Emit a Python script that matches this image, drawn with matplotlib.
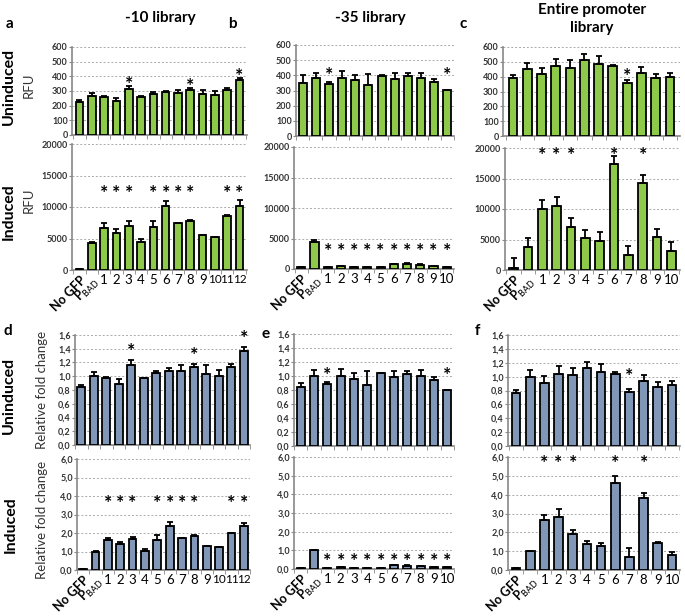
import numpy as np
import matplotlib.pyplot as plt

plt.rcParams['font.family'] = ['Lato', 'DejaVu Sans']

# categorias
lab_a = ['No GFP', r'P$_{\mathrm{BAD}}$'] + [str(i) for i in range(1, 13)]
lab_b = ['No GFP', r'P$_{\mathrm{BAD}}$'] + [str(i) for i in range(1, 11)]
lab_c = lab_b

# RFU - nao induzido
a_un = [228, 268, 258, 235, 312, 260, 282, 292, 288, 308, 278, 272, 305, 372]
a_un_err = [10, 15, 8, 15, 20, 5, 8, 8, 20, 10, 30, 25, 15, 15]
b_un = [350, 383, 340, 383, 370, 335, 398, 378, 395, 383, 358, 305]
b_un_err = [55, 35, 15, 45, 30, 75, 5, 35, 20, 35, 20, 0]
c_un = [390, 455, 415, 475, 460, 510, 488, 472, 355, 428, 388, 397]
c_un_err = [20, 40, 45, 45, 50, 40, 50, 10, 20, 35, 30, 25]

# RFU - induzido
a_in = [200, 4300, 6700, 5900, 7000, 4400, 6800, 10100, 7400, 7800, 5500, 5200, 8600, 10200]
a_in_err = [0, 100, 700, 600, 700, 500, 1000, 800, 100, 200, 100, 100, 100, 900]
b_in = [300, 4400, 400, 450, 350, 350, 400, 900, 800, 650, 450, 400]
b_in_err = [0, 300, 0, 0, 0, 0, 0, 0, 200, 100, 0, 0]
c_in = [400, 3800, 10000, 10500, 7100, 5200, 4700, 17300, 2500, 14200, 5400, 3100]
c_in_err = [1500, 1400, 1400, 1400, 1500, 1400, 1500, 1400, 1500, 1400, 1400, 1500]

# fold change - nao induzido
d_un = [0.85, 1.0, 0.97, 0.89, 1.16, 0.97, 1.05, 1.08, 1.07, 1.14, 1.03, 1.01, 1.13, 1.37]
d_un_err = [0.03, 0.06, 0.02, 0.07, 0.07, 0.01, 0.03, 0.04, 0.09, 0.04, 0.13, 0.08, 0.05, 0.05]
e_un = [0.85, 1.0, 0.89, 1.0, 0.96, 0.87, 1.04, 0.98, 1.03, 1.0, 0.94, 0.80]
e_un_err = [0.05, 0.08, 0.03, 0.1, 0.08, 0.2, 0.01, 0.09, 0.04, 0.08, 0.04, 0.0]
f_un = [0.77, 1.0, 0.91, 1.04, 1.02, 1.12, 1.07, 1.04, 0.78, 0.94, 0.85, 0.88]
f_un_err = [0.04, 0.09, 0.1, 0.11, 0.11, 0.09, 0.11, 0.02, 0.04, 0.08, 0.07, 0.05]

# fold change - induzido
d_in = [0.05, 1.0, 1.6, 1.4, 1.65, 1.05, 1.62, 2.4, 1.73, 1.83, 1.3, 1.25, 2.0, 2.4]
d_in_err = [0, 0.02, 0.15, 0.13, 0.15, 0.1, 0.25, 0.2, 0.02, 0.05, 0.02, 0.02, 0.02, 0.15]
e_in = [0.07, 1.0, 0.08, 0.09, 0.07, 0.07, 0.08, 0.2, 0.17, 0.14, 0.09, 0.09]
e_in_err = [0, 0.03, 0, 0, 0, 0, 0, 0, 0.05, 0.03, 0, 0]
f_in = [0.1, 1.0, 2.68, 2.8, 1.9, 1.38, 1.28, 4.6, 0.67, 3.8, 1.45, 0.82]
f_in_err = [0.02, 0, 0.25, 0.45, 0.25, 0.15, 0.18, 0.4, 0.5, 0.3, 0.05, 0.12]

# asteriscos (indices das barras)
a_un_st = [4, 9, 13]
a_in_st = [2, 3, 4, 6, 7, 8, 9, 12, 13]
b_un_st = [2, 11]
b_in_st = list(range(2, 12))
c_un_st = [8]
c_in_st = [2, 3, 4, 7, 9]

verde = '#8fc94a'
azul = '#8197b8'

fig = plt.figure(figsize=(6.85, 6.16), dpi=100)
W, H = 685.0, 616.0


def eixo(l, r, t, b):
    return fig.add_axes([l / W, 1 - b / H, (r - l) / W, (b - t) / H])


def painel(ax, vals, errs, cor, ymax, passo, fmt, estrelas, nivel=None, desloc=8,
           labels=None, x0=-0.6):
    n = len(vals)
    x = np.arange(n)
    ax.bar(x, vals, width=0.62, color=cor, edgecolor='black', linewidth=1.3, zorder=3)
    ax.errorbar(x, vals, yerr=[np.zeros(n), errs], fmt='none', ecolor='black',
                elinewidth=1.3, capsize=2, capthick=1.3, zorder=4)
    ax.set_ylim(0, ymax)
    ax.set_xlim(x0, n - 1 - x0)
    ticks = np.arange(0, ymax + passo / 2, passo)
    ax.set_yticks(ticks)
    ax.set_yticklabels([fmt(t) for t in ticks], fontsize=6.5, fontweight='bold', color='#333333')
    ax.grid(axis='y', linestyle=(0, (2, 2)), color='#aaaaaa', linewidth=0.7, zorder=0)
    for s in ['top', 'right']:
        ax.spines[s].set_visible(False)
    for s in ['left', 'bottom']:
        ax.spines[s].set_color('#888888')
        ax.spines[s].set_linewidth(1.2)
    ax.tick_params(axis='y', length=2, color='#888888', pad=1)
    ax.set_xticks(np.arange(n + 1) - 0.5, minor=True)
    ax.tick_params(axis='x', which='minor', length=3, color='#888888')
    ax.set_xticks(x)
    if labels is None:
        ax.set_xticklabels([])
        ax.tick_params(axis='x', which='major', length=0)
    else:
        ax.set_xticklabels(labels, fontsize=9.5, color='black')
        ax.tick_params(axis='x', which='major', length=0, pad=3)
        tl = ax.get_xticklabels()
        for lb in tl[:2]:
            lb.set_rotation(45)
            lb.set_ha('right')
            lb.set_rotation_mode('anchor')
            lb.set_fontweight('bold')
            lb.set_fontsize(9)
        if n > 12:
            for lb in tl[11:]:
                lb.set_fontsize(8.5)
    # asterisco: centro do glifo ~12 px acima da linha de base
    for i in estrelas:
        if nivel is None:
            y = vals[i] + errs[i]
            off = desloc - 12
        else:
            y = nivel
            off = -12
        ax.annotate('*', (i, y), xytext=(0, off * 0.72), textcoords='offset points',
                    ha='center', va='baseline', fontsize=14, fontweight='bold',
                    annotation_clip=False, zorder=5)


rfu = lambda t: '%d' % t
fc = lambda t: ('%.1f' % t).replace('.', ',')

ax = eixo(72, 247, 47, 135)
painel(ax, a_un, a_un_err, verde, 600, 100, rfu, a_un_st, desloc=8)
ax = eixo(72, 247, 144, 270)
painel(ax, a_in, a_in_err, verde, 20000, 5000, rfu, a_in_st, nivel=13200, labels=lab_a)
ax = eixo(296, 454, 45, 136)
painel(ax, b_un, b_un_err, verde, 600, 100, rfu, b_un_st, nivel=442, x0=-0.45)
ax = eixo(294, 454, 147, 269)
painel(ax, b_in, b_in_err, verde, 20000, 5000, rfu, b_in_st, nivel=3930, labels=lab_b, x0=-0.55)
ax = eixo(503, 680, 47, 136)
painel(ax, c_un, c_un_err, verde, 600, 100, rfu, c_un_st, nivel=448, x0=-0.7)
ax = eixo(505, 680, 148, 270)
painel(ax, c_in, c_in_err, verde, 20000, 5000, rfu, c_in_st, nivel=19900, labels=lab_c, x0=-0.6)

ax = eixo(75, 250, 335, 445)
painel(ax, d_un, d_un_err, azul, 1.6, 0.2, fc, a_un_st, desloc=15, x0=-0.5)
ax = eixo(77, 250, 459, 570)
painel(ax, d_in, d_in_err, azul, 6.0, 1.0, fc, a_in_st, nivel=3.95, labels=lab_a, x0=-0.45)
ax = eixo(294, 454, 334, 446)
painel(ax, e_un, e_un_err, azul, 1.6, 0.2, fc, b_un_st, nivel=1.1, x0=-0.5)
ax = eixo(294, 454, 457, 569)
painel(ax, e_in, e_in_err, azul, 6.0, 1.0, fc, b_in_st, nivel=0.75, labels=lab_b, x0=-0.5)
ax = eixo(508, 680, 335, 446)
painel(ax, f_un, f_un_err, azul, 1.6, 0.2, fc, c_un_st, nivel=1.1, x0=-0.56)
ax = eixo(508, 680, 457, 570)
painel(ax, f_in, f_in_err, azul, 6.0, 1.0, fc, c_in_st, nivel=6.0, labels=lab_c, x0=-0.56)

# titulos e letras
fig.text(160 / W, 1 - 18 / H, '-10 library', ha='center', va='center', fontsize=11, fontweight='bold')
fig.text(370 / W, 1 - 18 / H, '-35 library', ha='center', va='center', fontsize=11, fontweight='bold')
fig.text(592 / W, 1 - 19 / H, 'Entire promoter\nlibrary', ha='center', va='center', fontsize=11,
         fontweight='bold', linespacing=1.3)
for letra, x, y in [('a', 10, 24), ('b', 232, 24), ('c', 463, 24),
                    ('d', 8, 331), ('e', 266, 334), ('f', 477, 331)]:
    fig.text(x / W, 1 - y / H, letra, ha='center', va='center', fontsize=11, fontweight='bold')

for texto, x, y in [('Uninduced', 9, 86), ('Induced', 9, 212), ('Uninduced', 9, 395), ('Induced', 11, 525)]:
    fig.text(x / W, 1 - y / H, texto, ha='center', va='center', rotation=90,
             fontsize=11.5, fontweight='bold')
for y in [85, 200]:
    fig.text(29 / W, 1 - y / H, 'RFU', ha='center', va='center', rotation=90, fontsize=9.5, color='#333333')
for y in [390, 520]:
    fig.text(42 / W, 1 - y / H, 'Relative fold change', ha='center', va='center', rotation=90,
             fontsize=9.5, color='#333333')

plt.savefig('out.png', dpi=100)
